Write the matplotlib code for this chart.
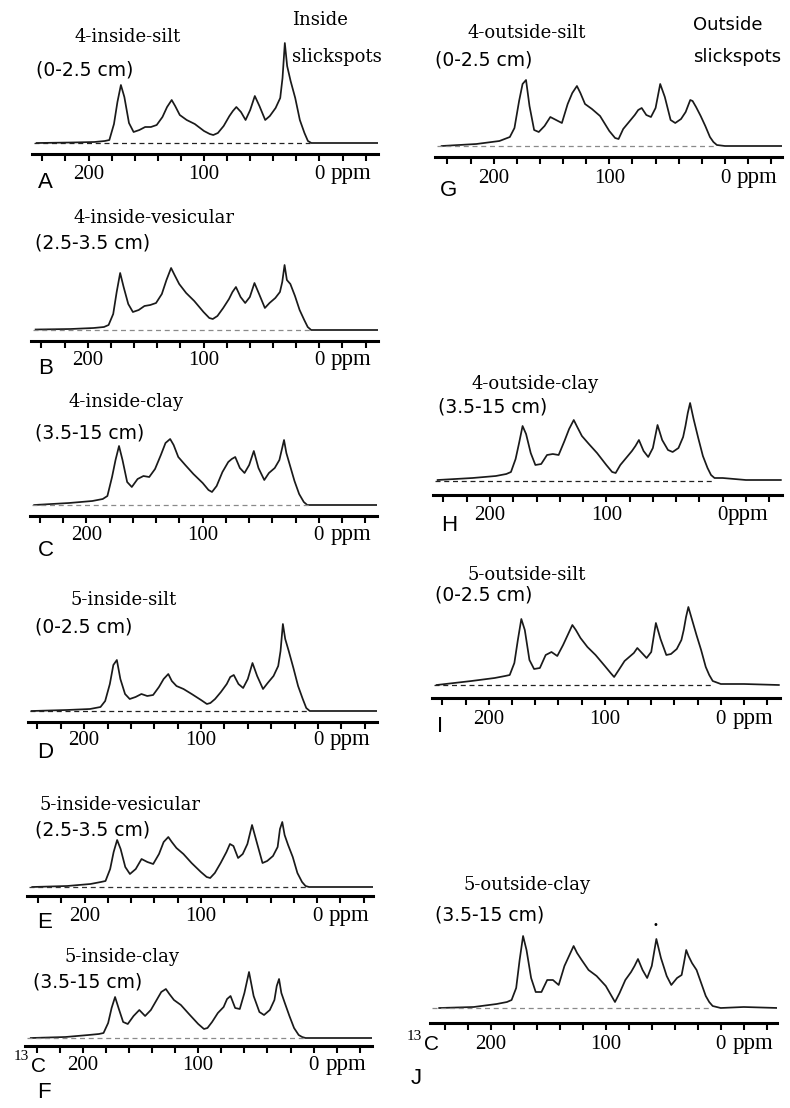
import numpy as np
import matplotlib
matplotlib.use("Agg")
import matplotlib.pyplot as plt

# chemical shift grid (ppm) shared by all spectra
ppm = [245, 215, 195, 186, 182, 178, 175, 172, 169, 165, 161, 156, 151, 146, 141,
       136, 132, 128, 125, 121, 115, 108, 100, 95, 92, 88, 83, 78, 75, 72,
       68, 64, 60, 56, 52, 47, 43, 38, 34, 32, 30, 28, 25, 21, 17,
       13, 10, 7, 0, -20, -50]

# signal intensity above baseline (arbitrary units)
int_a = [0, 0.5, 1, 2, 3, 19, 41, 58, 46, 20, 11, 13, 16, 16, 18, 26, 36, 43, 37, 28,
         23, 19, 12, 9, 8, 10, 17, 27, 32, 36, 31, 23, 33, 47, 37, 23, 27, 35, 45, 65,
         100, 77, 62, 45, 23, 10, 2, 0, 0, 0, 0]
int_b = [0.5, 1, 2, 3, 5, 16, 38, 57, 43, 26, 18, 20, 24, 25, 27, 36, 50, 62, 55, 46,
         37, 29, 18, 12, 11, 14, 22, 31, 38, 43, 33, 27, 33, 47, 36, 22, 27, 32, 38, 48,
         65, 50, 46, 34, 20, 10, 3, 0, 0, 0, 0]
int_c = [0, 2, 4, 6, 9, 28, 45, 59, 45, 23, 18, 26, 29, 28, 36, 50, 62, 66, 60, 48,
         40, 31, 22, 15, 13, 19, 33, 43, 46, 48, 37, 32, 40, 54, 37, 25, 32, 37, 45, 55,
         65, 52, 40, 24, 11, 3, 0, 0, 0, 0, 0]
int_d = [0, 1, 2, 4, 10, 27, 46, 51, 32, 17, 12, 14, 17, 15, 16, 24, 32, 37, 30, 25,
         22, 17, 11, 7, 8, 12, 19, 27, 34, 36, 27, 23, 32, 48, 35, 22, 28, 35, 45, 60,
         87, 72, 60, 43, 25, 12, 3, 0, 0, 0, 0]
int_e = [0, 1, 3, 5, 6, 18, 35, 47, 38, 20, 13, 18, 28, 25, 23, 33, 45, 50, 45, 39,
         33, 24, 15, 10, 9, 14, 24, 35, 43, 41, 29, 33, 43, 62, 45, 24, 26, 31, 40, 58,
         65, 52, 42, 30, 14, 5, 1, 0, 0, 0, 0]
int_f = [0, 1, 3, 4, 5, 15, 30, 41, 30, 16, 14, 22, 28, 22, 28, 38, 46, 49, 44, 38,
         33, 24, 14, 9, 10, 16, 25, 31, 39, 42, 30, 29, 45, 66, 42, 26, 23, 28, 38, 52,
         59, 45, 35, 22, 10, 3, 1, 0, 0, 0, 0]
int_g = [0, 2, 5, 9, 18, 45, 62, 66, 40, 16, 14, 20, 29, 26, 23, 42, 53, 60, 53, 42,
         37, 30, 15, 8, 7, 17, 24, 31, 36, 38, 31, 29, 38, 62, 49, 26, 23, 27, 34, 40,
         46, 45, 39, 30, 20, 9, 4, 1, 0, 0, 0]
int_h = [1, 3, 5, 7, 9, 22, 38, 55, 47, 28, 16, 17, 26, 27, 26, 40, 52, 61, 54, 45,
         37, 28, 16, 9, 8, 16, 23, 30, 35, 41, 30, 24, 33, 56, 41, 31, 29, 33, 44, 55,
         68, 78, 62, 43, 25, 13, 6, 3, 3, 1, 1]
int_i = [0, 4, 7, 9, 10, 22, 45, 66, 55, 25, 16, 17, 30, 33, 29, 40, 50, 60, 55, 47,
         38, 30, 19, 12, 8, 15, 24, 29, 32, 37, 32, 27, 33, 62, 46, 30, 31, 36, 45, 55,
         68, 78, 66, 50, 35, 18, 10, 4, 1, 1, 0]
int_j = [0, 1, 4, 6, 8, 20, 48, 72, 58, 30, 16, 16, 28, 28, 23, 42, 52, 62, 55, 48,
         38, 32, 22, 12, 6, 15, 28, 36, 42, 49, 38, 30, 42, 69, 50, 32, 23, 30, 33, 45,
         58, 52, 45, 38, 25, 12, 6, 2, 0, 1, 0]

names = ["4-inside-silt", "4-inside-vesicular", "4-inside-clay",
         "5-inside-silt", "5-inside-vesicular", "5-inside-clay",
         "4-outside-silt", "4-outside-clay", "5-outside-silt", "5-outside-clay"]
depths = ["(0-2.5 cm)", "(2.5-3.5 cm)", "(3.5-15 cm)",
          "(0-2.5 cm)", "(2.5-3.5 cm)", "(3.5-15 cm)",
          "(0-2.5 cm)", "(3.5-15 cm)", "(0-2.5 cm)", "(3.5-15 cm)"]
letters = list("ABCDEFGHIJ")
spectra = [int_a, int_b, int_c, int_d, int_e, int_f, int_g, int_h, int_i, int_j]

W, H = 790, 1108
SERIF = "DejaVu Serif"
TSERIF = "Liberation Serif"
SANS = "DejaVu Sans"

# layout in pixels: x0, x1, axis line y, baseline y, xlim, label y,
# title (x, y), depth (x, y), letter (x, y), dash colour
layout = [
    (32, 378, 154, 143, (249, -50.7), 172, (128, 37), (36, 70), (38, 183), "#222222"),
    (31, 378, 341, 330, (249, -50.7), 358, (154, 218), (35, 243), (38, 368), "#8a8a8a"),
    (30, 377, 516, 505, (248.6, -50), 533, (126, 402), (35, 433), (38, 550), "#8a8a8a"),
    (28, 377, 722, 711, (248, -50.5), 738, (124, 600), (35, 627), (37, 752), "#222222"),
    (27, 373, 896, 887, (249.5, -48), 914, (120, 805), (35, 830), (37, 923), "#333333"),
    (25, 372, 1046, 1038, (250, -50.5), 1063, (122, 957), (33, 982), (37, 1092), "#8a8a8a"),
    (435, 782, 157, 146, (250.7, -49.3), 176, (527, 33), (435, 60), (440, 190), "#8a8a8a"),
    (433, 782, 495, 481, (249, -51), 513, (535, 384), (438, 407), (441, 525), "#222222"),
    (432, 780, 698, 685, (249, -51), 717, (527, 575), (435, 595), (437, 727), "#222222"),
    (430, 777, 1023, 1008, (253, -49), 1042, (527, 885), (435, 915), (411, 1078), "#8a8a8a"),
]


def fx(x):
    return x / W


def fy(y):
    return 1 - y / H


fig = plt.figure(figsize=(W / 100, H / 100), dpi=100)

for k, (x0, x1, ay, by, xlim, ly, tpos, dpos, lpos, dcol) in enumerate(layout):
    height = 115
    ax = fig.add_axes([fx(x0), fy(ay), (x1 - x0) / W, height / H])
    bottom = -(ay - by)
    ax.set_ylim(bottom, bottom + height)
    ax.set_xlim(*xlim)

    ax.plot(ppm, spectra[k], color="#1a1a1a", lw=1.25)
    ax.plot([xlim[0] - 2, 8], [0, 0], color=dcol, lw=0.9, ls=(0, (4, 3)))

    for s in ["top", "left", "right"]:
        ax.spines[s].set_visible(False)
    ax.spines["bottom"].set_linewidth(2.2)
    ax.set_yticks([])
    ax.set_xticks(np.arange(-40, 241, 20))
    ax.tick_params(axis="x", which="major", direction="out", length=5, width=1.5,
                   labelbottom=False)

    # tick numbers sit on a common text baseline
    yb = bottom - (ly - ay) - 7
    for v in [200, 100, 0]:
        ax.text(v, yb, str(v), ha="center", va="baseline", fontsize=15,
                family=TSERIF, clip_on=False)
    ppm_x = -4 if k == 7 else -10
    ax.text(ppm_x, yb, "ppm", ha="left", va="baseline", fontsize=16.5,
            family=TSERIF, clip_on=False)

    fig.text(fx(tpos[0]), fy(tpos[1]), names[k], ha="center", va="center",
             fontsize=13, family=SERIF)
    fig.text(fx(dpos[0]), fy(dpos[1]), depths[k], ha="left", va="center",
             fontsize=13.5, family=SANS)
    fig.text(fx(lpos[0]), fy(lpos[1]), letters[k], ha="left", va="center",
             fontsize=16, family="Liberation Sans")

# column headers
fig.text(fx(292), fy(20), "Inside", ha="left", va="center", fontsize=13, family=SERIF)
fig.text(fx(292), fy(57), "slickspots", ha="left", va="center", fontsize=13, family=SERIF)
fig.text(fx(693), fy(25), "Outside", ha="left", va="center", fontsize=13, family=SANS)
fig.text(fx(693), fy(57), "slickspots", ha="left", va="center", fontsize=13, family=SANS)

# nucleus labels
for (xs, ys) in [(14, 1063), (407, 1042)]:
    fig.text(fx(xs), fy(ys - 6), "13", ha="left", va="center", fontsize=11, family=TSERIF)
    fig.text(fx(xs + 17), fy(ys + 3), "C", ha="left", va="center", fontsize=15,
             family="Liberation Sans")

# stray dot above the methoxyl peak in J
fig.text(fx(655), fy(925), "\u2022", ha="center", va="center", fontsize=7)

fig.savefig("out.png", dpi=100)
